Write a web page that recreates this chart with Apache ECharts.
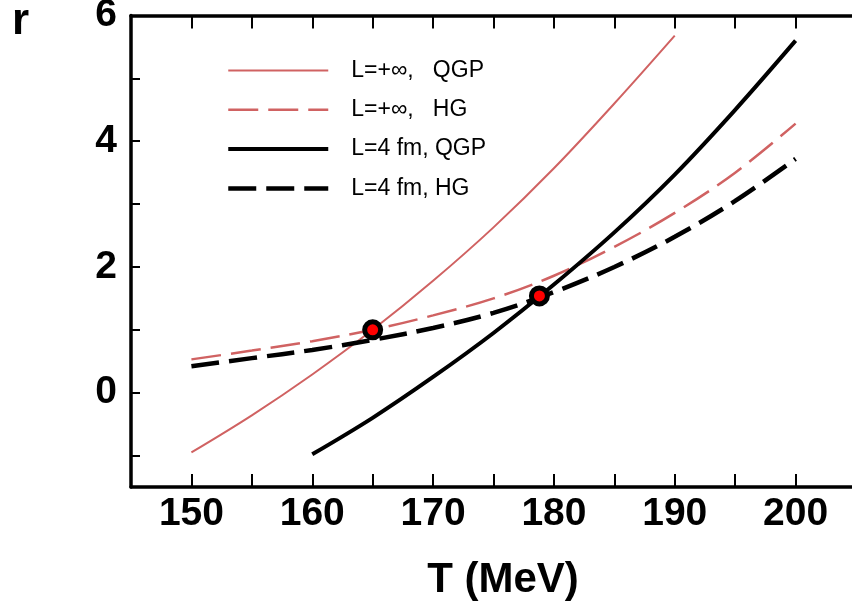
<!DOCTYPE html>
<html>
<head>
<meta charset="utf-8">
<script src="https://cdn.jsdelivr.net/npm/echarts@6/dist/echarts.min.js"></script>
<style>html,body{margin:0;padding:0;background:#fff}#c{width:852px;height:614px}</style>
</head>
<body>
<div id="c"></div>
<script>
// Data
var tInf = [150, 155, 160, 165, 170, 175, 180, 185, 190];
var rInfQGP = [-0.95, -0.36, 0.29, 1.0, 1.78, 2.63, 3.57, 4.6, 5.68];
var tHG = [150, 155, 160, 165, 170, 175, 180, 185, 190, 195, 200];
var rInfHG = [0.53, 0.67, 0.82, 1.0, 1.23, 1.5, 1.86, 2.32, 2.86, 3.5, 4.28];
var r4HG = [0.42, 0.55, 0.68, 0.84, 1.03, 1.27, 1.6, 2.0, 2.48, 3.05, 3.72];
var t4QGP = [160, 165, 170, 175, 180, 185, 190, 195, 200];
var r4QGP = [-0.98, -0.4, 0.25, 0.95, 1.72, 2.55, 3.47, 4.5, 5.6];
var crossT = [165, 178.8];
var crossR = [1.0, 1.54];
var seriesNames = ['L=+\u221E,   QGP', 'L=+\u221E,   HG', 'L=4 fm, QGP', 'L=4 fm, HG'];
var xTicks = [150, 160, 170, 180, 190, 200];
var yTicks = [0, 2, 4, 6];

function pairs(xs, ys) { return xs.map(function (x, i) { return [x, ys[i]]; }); }

var RED = '#d06262';
var chart = echarts.init(document.getElementById('c'), null, {renderer: 'canvas'});
var axisFont = {fontFamily: 'Liberation Sans, Arial, sans-serif', fontWeight: 'bold', fontSize: 39, color: '#000'};

chart.setOption({
  animation: false,
  backgroundColor: '#fff',
  grid: {left: 131, top: 15.5, width: 725, bottom: 127, containLabel: false, outerBoundsMode: 'none'},
  legend: {
    orient: 'vertical', left: 221, top: 54, itemWidth: 100, itemHeight: 14, itemGap: 16.3,
    itemStyle: {opacity: 0},
    lineStyle: {width: 'inherit'},
    textStyle: {fontFamily: 'Liberation Sans, Arial, sans-serif', fontSize: 23, color: '#000', lineHeight: 23, padding: [0, 0, 0, 18]},
    data: seriesNames
  },
  xAxis: [{
    type: 'value', min: 145, max: 205, interval: 5, position: 'bottom',
    axisLine: {onZero: false, lineStyle: {color: '#000', width: 3.5}},
    axisTick: {inside: true, length: 13, lineStyle: {color: '#000', width: 2}},
    splitLine: {show: false},
    axisLabel: Object.assign({margin: 8, formatter: function (v) { return xTicks.indexOf(v) >= 0 ? String(v) : ''; }}, axisFont)
  }, {
    type: 'value', min: 145, max: 205, interval: 5, position: 'top',
    axisLine: {onZero: false, lineStyle: {color: '#000', width: 3.5}},
    axisTick: {inside: true, length: 13, lineStyle: {color: '#000', width: 2}},
    splitLine: {show: false},
    axisLabel: {show: false}
  }],
  yAxis: [{
    type: 'value', min: -1.5, max: 6, splitNumber: 7, minInterval: 1, maxInterval: 1,
    axisLine: {show: true, onZero: false, lineStyle: {color: '#000', width: 3.5}},
    axisTick: {show: true, inside: true, length: 9, lineStyle: {color: '#000', width: 2}},
    splitLine: {show: false},
    axisLabel: Object.assign({margin: 14, formatter: function (v) { return yTicks.indexOf(v) >= 0 ? String(v) : ''; }}, axisFont)
  }],
  graphic: [
    {type: 'text', left: 12, top: 0, style: {text: 'r', font: 'bold 44px "Liberation Sans", Arial, sans-serif', fill: '#000'}},
    {type: 'text', x: 503, y: 580, style: {text: 'T (MeV)', font: 'bold 42px "Liberation Sans", Arial, sans-serif', fill: '#000', textAlign: 'center', textVerticalAlign: 'middle'}}
  ],
  series: [
    {name: seriesNames[0], type: 'line', data: pairs(tInf, rInfQGP), smooth: 0.35, symbol: 'none', lineStyle: {color: RED, width: 2}, itemStyle: {color: RED}},
    {name: seriesNames[1], type: 'line', data: pairs(tHG, rInfHG), smooth: 0.35, symbol: 'none', lineStyle: {color: RED, width: 2.5, type: [30, 10]}, itemStyle: {color: RED}},
    {name: seriesNames[2], type: 'line', data: pairs(t4QGP, r4QGP), smooth: 0.35, symbol: 'none', lineStyle: {color: '#000', width: 4}, itemStyle: {color: '#000'}},
    {name: seriesNames[3], type: 'line', data: pairs(tHG, r4HG), smooth: 0.35, symbol: 'none', lineStyle: {color: '#000', width: 4.5, type: [28, 10]}, itemStyle: {color: '#000'}},
    {name: 'cross', type: 'scatter', data: pairs(crossT, crossR), symbolSize: 16, z: 5,
     itemStyle: {color: '#ff0000', borderColor: '#000', borderWidth: 5, opacity: 1}}
  ]
});
</script>
</body>
</html>
